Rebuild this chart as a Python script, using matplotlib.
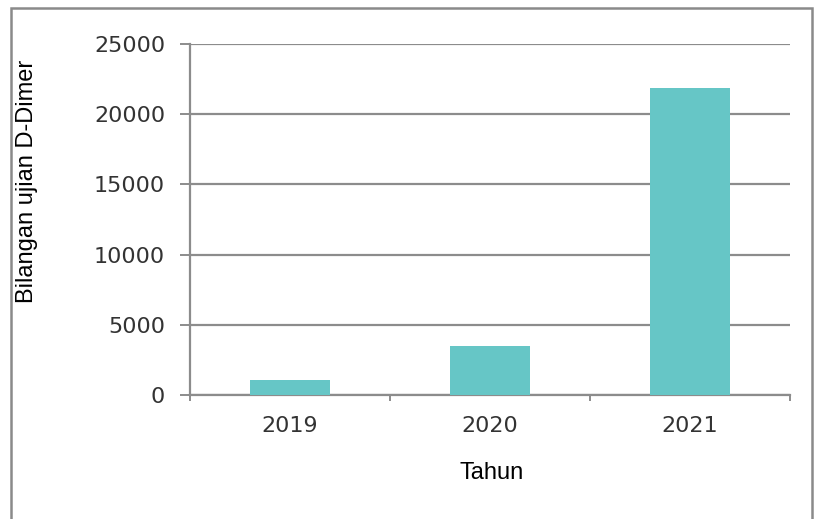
import matplotlib.pyplot as plt
from matplotlib.patches import Rectangle

# data
years = ["2019", "2020", "2021"]
tests = [1050, 3500, 21900]
y_ticks = [0, 5000, 10000, 15000, 20000, 25000]

bar_color = "#66c6c6"
grid_color = "#8c8c8c"

fig = plt.figure(figsize=(8.15, 5.19), dpi=100)
ax = fig.add_axes([190 / 815, 1 - 395 / 519, 600 / 815, 351 / 519])

x = list(range(len(years)))
ax.bar(x, tests, width=0.4, color=bar_color, zorder=3)

ax.set_xlim(-0.5, len(years) - 0.5)
ax.set_ylim(0, 25000)
ax.set_yticks(y_ticks)
ax.set_yticklabels([str(v) for v in y_ticks], fontsize=16, color="#333333",
                   family="DejaVu Sans")
ax.yaxis.grid(True, color=grid_color, linewidth=1.6, zorder=0)

# category boundaries carry the tick marks, labels sit in the middle
ax.set_xticks([i - 0.5 for i in range(len(years) + 1)])
ax.set_xticklabels([])
ax.set_xticks(x, minor=True)
ax.set_xticklabels(years, minor=True, fontsize=16, color="#333333",
                   family="DejaVu Sans")
ax.tick_params(axis="x", which="major", length=4.5, color=grid_color, width=1.4)
ax.tick_params(axis="x", which="minor", length=0, pad=15)
ax.tick_params(axis="y", length=7, color=grid_color, width=1.4, pad=11)

for side in ["top", "right"]:
    ax.spines[side].set_visible(False)
for side in ["left", "bottom"]:
    ax.spines[side].set_color(grid_color)
    ax.spines[side].set_linewidth(1.6)

fig.text(492 / 815, 1 - 473 / 519, "Tahun", fontsize=17, family="Liberation Sans",
         ha="center", va="center")
fig.text(27 / 815, 1 - 181 / 519, "Bilangan ujian D-Dimer", fontsize=17,
         family="Liberation Sans", rotation=90, ha="center", va="center")

# grey frame around the picture
fig.patches.append(Rectangle((11 / 815, -0.05), 801 / 815, 1.05 - 8 / 519,
                             transform=fig.transFigure, fill=False,
                             edgecolor="#8a8a8a", linewidth=1.8))

fig.savefig("out.png", dpi=100)
